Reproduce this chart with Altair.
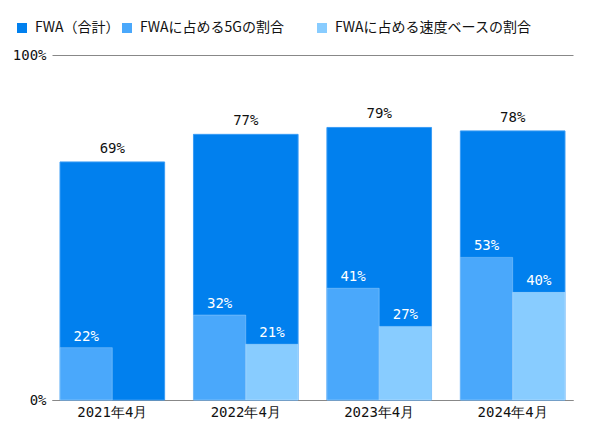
import altair as alt
import pandas as pd

months = ["2021年4月", "2022年4月", "2023年4月", "2024年4月"]
fwa_total = [69, 77, 79, 78]
share_5g = [22, 32, 41, 53]
share_speed = [None, 21, 27, 40]

series_names = ["FWA（合計）", "FWAに占める5Gの割合", "FWAに占める速度ベースの割合"]
colors = ["#0180EE", "#4AA8FB", "#88CCFF"]

rows = []
for m, t, s5, ss in zip(months, fwa_total, share_5g, share_speed):
    rows.append({"month": m, "series": series_names[0], "label": t, "total": t, "kind": "total"})
    rows.append({"month": m, "series": series_names[1], "label": s5, "total": t, "kind": "g5"})
    if ss is not None:
        rows.append({"month": m, "series": series_names[2], "label": ss, "total": t, "kind": "speed"})
df = pd.DataFrame(rows)

base = alt.Chart(df).transform_calculate(
    h="datum.kind == 'total' ? datum.label : datum.label * datum.total / 100",
    txt="datum.label + '%'",
)

xenc = alt.X(
    "month:N",
    sort=months,
    title=None,
    scale=alt.Scale(paddingInner=0.216, paddingOuter=0.06),
    axis=alt.Axis(
        labelAngle=0, ticks=False, domain=True, domainColor="#888888",
        labelFont="DejaVu Sans Mono", labelFontSize=14, labelColor="#111111",
        labelPadding=5,
    ),
)
yenc = alt.Y(
    "h:Q",
    title=None,
    scale=alt.Scale(domain=[0, 100], nice=False),
    axis=alt.Axis(
        values=[0, 100], labelExpr="datum.value + '%'", grid=True,
        gridColor="#888888", domain=False, ticks=False,
        labelFont="DejaVu Sans Mono", labelFontSize=14, labelColor="#111111",
        labelPadding=6,
    ),
)

legend_common = dict(
    title=None, orient="none", direction="horizontal",
    symbolType="square", symbolSize=100, symbolStrokeWidth=0,
    labelFont="Noto Sans CJK JP", labelFontSize=14, labelColor="#111111",
    columnPadding=-7, labelOffset=6, symbolOpacity=1, labelLimit=400,
)

color = alt.Color(
    "series:N",
    scale=alt.Scale(domain=series_names[:2], range=colors[:2]),
    legend=alt.Legend(legendX=-37, legendY=-34, **legend_common),
)
fill_speed = alt.Fill(
    "series:N",
    scale=alt.Scale(domain=series_names[2:], range=colors[2:]),
    legend=alt.Legend(legendX=263, legendY=-34, **legend_common),
)

total_bar = base.transform_filter("datum.kind == 'total'").mark_bar(
    stroke="#3a9cf5", strokeWidth=1, opacity=1
).encode(x=xenc, y=yenc, color=color)

total_txt = base.transform_filter("datum.kind == 'total'").mark_text(
    baseline="bottom", dy=-6, font="DejaVu Sans Mono", fontSize=14, color="#111111"
).encode(x=alt.X("month:N", sort=months), y="h:Q", text="txt:N")

sub_domain = series_names[1:]
xoff = alt.XOffset("series:N", scale=alt.Scale(domain=sub_domain))

g5_bar = base.transform_filter("datum.kind == 'g5'").mark_bar(
    stroke="#ffffff", strokeOpacity=0.25, strokeWidth=1, opacity=1
).encode(
    x=alt.X("month:N", sort=months), xOffset=xoff, y="h:Q", color=color,
)
speed_bar = base.transform_filter("datum.kind == 'speed'").mark_bar(
    stroke="#ffffff", strokeOpacity=0.25, strokeWidth=1, opacity=1
).encode(
    x=alt.X("month:N", sort=months), xOffset=xoff, y="h:Q", fill=fill_speed,
)
sub_txt = base.transform_filter("datum.kind != 'total'").mark_text(
    baseline="bottom", dy=-4, font="DejaVu Sans Mono", fontSize=14, color="#ffffff"
).encode(
    x=alt.X("month:N", sort=months), xOffset=xoff, y="h:Q", text="txt:N",
)

chart = alt.layer(total_bar, total_txt, g5_bar, speed_bar, sub_txt).properties(
    width=521, height=345,
    autosize=alt.AutoSizeParams(type="none"),
    padding={"left": 44, "top": 47, "right": 19, "bottom": 30},
).configure_view(stroke=None)

chart.save("out.html", embed_options={"renderer": "svg", "actions": False})
